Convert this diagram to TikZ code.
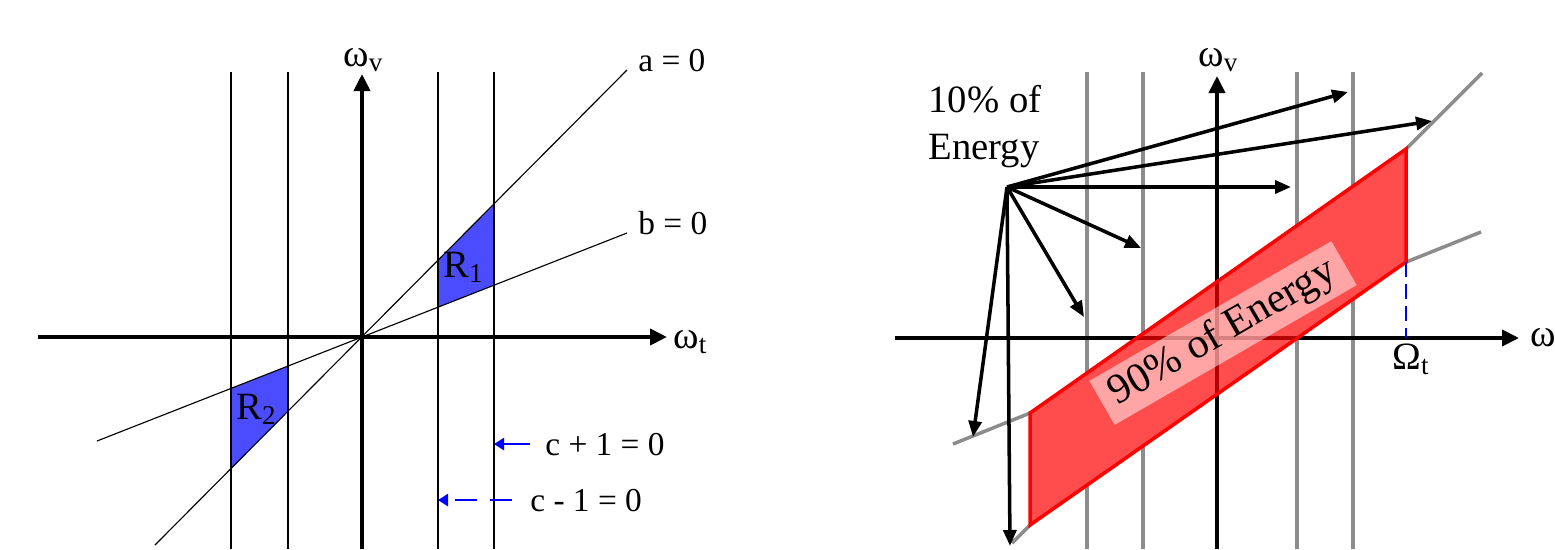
\documentclass[tikz,border=0pt]{standalone}
\usepackage{fontspec}
\setmainfont{Liberation Serif}
\usetikzlibrary{arrows.meta,calc}
\begin{document}
\begin{tikzpicture}[x=0.02cm,y=-0.02cm,
    every node/.style={font=\fontsize{19}{23}\selectfont,inner sep=0pt},
    big/.style={font=\fontsize{22}{26.7}\selectfont},
    greek/.style={font=\fontsize{22}{26}\selectfont},
    axisline/.style={line width=2.2pt,-{Triangle[length=0.34cm,width=0.32cm]}},
    thinline/.style={line width=0.65pt},
    grayline/.style={line width=2pt,draw=black!45},
    ray/.style={line width=2pt,-{Triangle[length=0.32cm,width=0.26cm]}},
    cue/.style={blue,line width=1.6pt,-{Triangle[length=0.2cm,width=0.24cm]}},
    region/.style={fill=blue!70}]
  \useasboundingbox (0,0) rectangle (1555,549);
  % left plane
  \coordinate (O1) at (362,337);
  \coordinate (a0) at (155,545); \coordinate (a1) at (627,70);
  \coordinate (b0) at (97,441);  \coordinate (b1) at (627,233);
  \foreach \x [count=\i] in {231,288,438,494}
    {\coordinate (top\i) at (\x,72); \coordinate (bot\i) at (\x,549);}
  \fill[region] (intersection of O1--a1 and top3--bot3) -- (intersection of O1--a1 and top4--bot4)
    -- (intersection of O1--b1 and top4--bot4) -- (intersection of O1--b1 and top3--bot3) -- cycle;
  \fill[region] (intersection of O1--a0 and top1--bot1) -- (intersection of O1--a0 and top2--bot2)
    -- (intersection of O1--b0 and top2--bot2) -- (intersection of O1--b0 and top1--bot1) -- cycle;
  \foreach \i in {1,...,4} \draw[thinline] (top\i) -- (bot\i);
  \draw[thinline] (a0) -- (a1);
  \draw[thinline] (b0) -- (b1);
  \coordinate (xl1) at (38,337); \coordinate (xr1) at (667,337);
  \coordinate (yb1) at (362,549); \coordinate (yt1) at (362,74);
  \draw[axisline] (xl1) -- (xr1);
  \draw[axisline] (yb1) -- (yt1);
  \node[greek,anchor=base west] (wv1) at (343,66) {ω\textsubscript{v}};
  \node[greek,anchor=base west] (wt1) at (673,348) {ω\textsubscript{t}};
  \node[anchor=base west] (la) at (638,71) {a = 0};
  \node[anchor=base west] (lb) at (638,234) {b = 0};
  \node[big,anchor=base west] (r1) at (443,277) {R\textsubscript{1}};
  \node[big,anchor=base west] (r2) at (236,419) {R\textsubscript{2}};
  \node[anchor=base west] (cp) at (545,455) {c + 1 = 0};
  \node[anchor=base west] (cm) at (530,511) {c - 1 = 0};
  \draw[cue] ([xshift=-0.3cm]cp.west) -- (bot4 |- cp.west);
  \draw[cue,dash pattern=on 0.44cm off 0.26cm] ([xshift=-0.36cm]cm.west) -- (bot3 |- cm.west);
  % right plane
  \coordinate (O2) at (1217,338);
  \foreach \x [count=\i] in {1087,1143,1297,1353}
    {\coordinate (gt\i) at (\x,72); \coordinate (gb\i) at (\x,549); \draw[grayline] (gt\i) -- (gb\i);}
  \coordinate (A0) at (1012,543); \coordinate (A1) at (1482,73);
  \coordinate (B0) at (953,444);  \coordinate (B1) at (1481,232);
  \draw[grayline] (A0) -- (A1);
  \draw[grayline] (B0) -- (B1);
  \coordinate (TL) at (1030,413); \coordinate (TR) at (1406,149);
  \coordinate (BR) at (1406,262); \coordinate (BL) at (1030,525);
  \fill[white] (TL) -- (TR) -- (BR) -- (BL) -- cycle;
  \coordinate (xl2) at (895,338); \coordinate (xr2) at (1519,338);
  \coordinate (yb2) at (1217,549); \coordinate (yt2) at (1217,76);
  \draw[axisline] (xl2) -- (xr2);
  \draw[axisline] (yb2) -- (yt2);
  \draw[red,line width=2pt,fill=red,fill opacity=0.7] (TL) -- (TR) -- (BR) -- (BL) -- cycle;
  \node[font=\fontsize{24}{28}\selectfont,rotate=30,fill=white,fill opacity=0.5,text opacity=1,
    inner xsep=0.25cm,inner ysep=0.12cm] (ninety) at (1223,333) {90\% of Energy};
  \draw[blue,line width=1.3pt,dash pattern=on 0.3cm off 0.14cm] (BR) -- (BR |- O2);
  \node[greek,anchor=base west] (om) at (1392,369) {Ω\textsubscript{t}};
  \node[greek,anchor=base west] (wt2) at (1530,346) {ω\textsubscript{t}};
  \node[greek,anchor=base west] (wv2) at (1198,66) {ω\textsubscript{v}};
  \node[big,align=left] (ten) at (985,127) {10\% of\\Energy};
  \coordinate (P) at (1007,187);
  \foreach \tx/\ty [count=\i] in {1348/92,1432/121,1291/187,1141/248,1084/317,973/437,1010/546}
    {\coordinate (e\i) at (\tx,\ty); \draw[ray] (P) -- (e\i);}
\end{tikzpicture}
\end{document}
